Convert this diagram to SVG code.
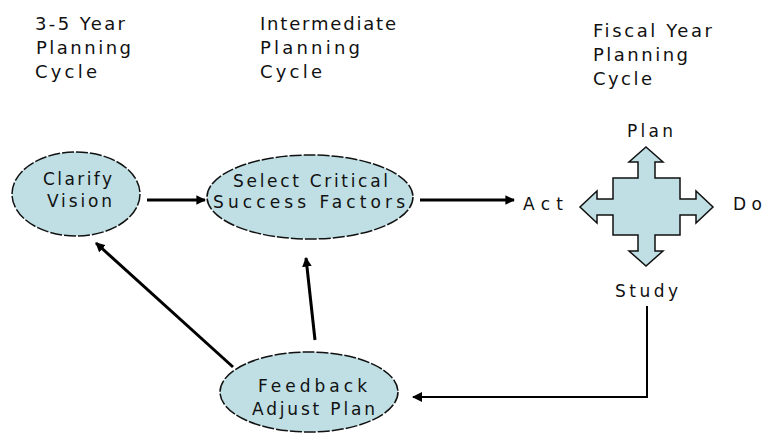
<svg xmlns="http://www.w3.org/2000/svg" width="765" height="436" viewBox="0 0 765 436">
<defs>
<style>
text{font-family:"DejaVu Sans","Liberation Sans",Arial,sans-serif;fill:#111;}
.h{font-size:18px;}
.t{font-size:17px;}
.node{fill:#bfdfe4;stroke:#111;stroke-width:1.5;stroke-dasharray:12 2;}
.cross{fill:#bfdfe4;stroke:#111;stroke-width:1.5;stroke-linejoin:miter;}
.c{fill:none;stroke:#000;stroke-width:3;}
.thin{stroke-width:2;}
</style>
<marker id="ah" viewBox="0 0 10 10" refX="9" refY="5" markerWidth="3.2" markerHeight="3.2" orient="auto" markerUnits="strokeWidth">
<path d="M0,0 L10,5 L0,10 Z" fill="#000"/>
</marker>
<marker id="ah2" viewBox="0 0 10 10" refX="9" refY="5" markerWidth="5" markerHeight="5" orient="auto" markerUnits="strokeWidth">
<path d="M0,0 L10,5 L0,10 Z" fill="#000"/>
</marker>
</defs>
<rect width="765" height="436" fill="#fff"/>
<g id="headers">
<text class="h" x="35" y="30" textLength="90" lengthAdjust="spacing">3-5 Year</text>
<text class="h" x="36" y="54" textLength="95" lengthAdjust="spacing">Planning</text>
<text class="h" x="35" y="78" textLength="62" lengthAdjust="spacing">Cycle</text>
<text class="h" x="260" y="30" textLength="136" lengthAdjust="spacing">Intermediate</text>
<text class="h" x="260" y="54" textLength="100" lengthAdjust="spacing">Planning</text>
<text class="h" x="260" y="78" textLength="62" lengthAdjust="spacing">Cycle</text>
<text class="h" x="593" y="37" textLength="119" lengthAdjust="spacing">Fiscal Year</text>
<text class="h" x="593" y="61" textLength="95" lengthAdjust="spacing">Planning</text>
<text class="h" x="593" y="85" textLength="59" lengthAdjust="spacing">Cycle</text>
</g>
<g id="connectors">
<line class="c" x1="147" y1="200" x2="205" y2="200" marker-end="url(#ah)"/>
<line class="c" x1="420" y1="200" x2="514" y2="200" marker-end="url(#ah)"/>
<polyline class="c thin" points="647,306 647,397 413,397" marker-end="url(#ah2)"/>
<line class="c" x1="315" y1="340" x2="306" y2="258" marker-end="url(#ah)"/>
<line class="c" x1="233" y1="367" x2="96" y2="243" marker-end="url(#ah)"/>
</g>
<g id="clarify-vision">
<ellipse class="node" cx="76" cy="194" rx="64" ry="42"/>
<text class="t" x="43" y="185" textLength="69" lengthAdjust="spacing">Clarify</text>
<text class="t" x="47" y="207" textLength="65" lengthAdjust="spacing">Vision</text>
</g>
<g id="select-csf">
<ellipse class="node" cx="310" cy="197" rx="103" ry="42"/>
<text class="t" x="233" y="187" textLength="155" lengthAdjust="spacing">Select Critical</text>
<text class="t" x="213" y="208" textLength="192" lengthAdjust="spacing">Success Factors</text>
</g>
<g id="feedback">
<ellipse class="node" cx="309" cy="392" rx="89" ry="40"/>
<text class="t" x="258" y="392" textLength="109" lengthAdjust="spacing">Feedback</text>
<text class="t" x="252" y="415" textLength="123" lengthAdjust="spacing">Adjust Plan</text>
</g>
<g id="act">
<text class="t" x="523" y="210" textLength="40" lengthAdjust="spacing">Act</text>
</g>
<g id="pdsa-cross">
<polygon class="cross" points="646,147 663,162 655,162 655,178 680,178 680,199 696,199 696,191 713,207 696,223 696,215 680,215 680,235 655,235 655,251 663,251 646,266 629,251 638,251 638,235 613,235 613,215 597,215 597,223 580,207 597,191 597,199 613,199 613,178 638,178 638,162 629,162"/>
</g>
<g id="plan"><text class="t" x="627" y="137" textLength="46" lengthAdjust="spacing">Plan</text></g>
<g id="do"><text class="t" x="733" y="210" textLength="29" lengthAdjust="spacing">Do</text></g>
<g id="study"><text class="t" x="615" y="297" textLength="63" lengthAdjust="spacing">Study</text></g>
</svg>
